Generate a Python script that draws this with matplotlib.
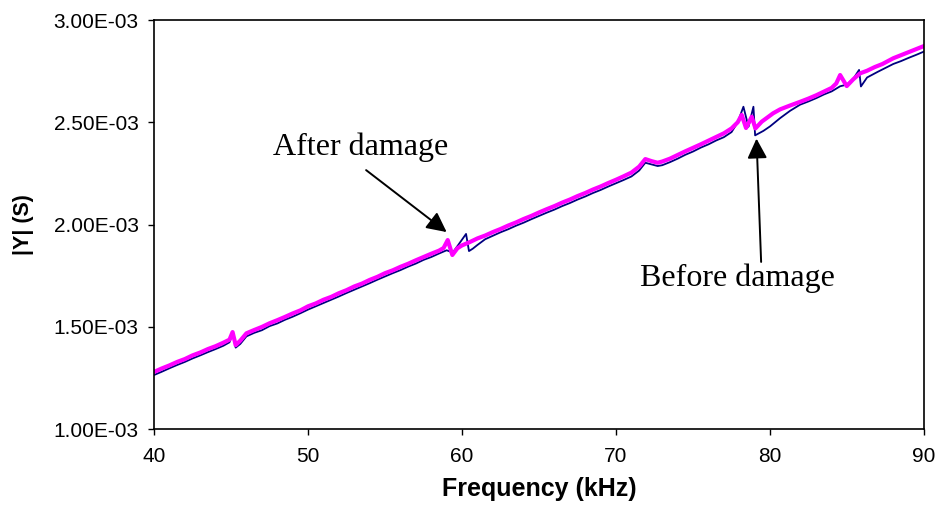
import numpy as np
import matplotlib.pyplot as plt

# |Y| readings in units of 1e-3 S
freq_before = [40.0, 40.5, 41.0, 41.5, 42.0, 42.5, 43.0, 43.5, 44.0, 44.5, 44.9,
               45.1, 45.3, 45.6, 46.0, 46.5, 47.0, 47.5, 48.0, 48.5, 49.0, 49.5,
               50.0, 50.5, 51.0, 51.5, 52.0, 52.5, 53.0, 53.5, 54.0, 54.5, 55.0,
               55.5, 56.0, 56.5, 57.0, 57.5, 58.0, 58.5, 59.0, 59.4, 59.8, 60.26,
               60.45, 60.7, 61.0, 61.5, 62.0, 62.5, 63.0, 63.5, 64.0, 64.5, 65.0,
               65.5, 66.0, 66.5, 67.0, 67.5, 68.0, 68.5, 69.0, 69.5, 70.0, 70.5,
               71.0, 71.5, 71.9, 72.3, 72.7, 73.0, 73.5, 74.0, 74.5, 75.0, 75.5,
               76.0, 76.5, 77.0, 77.5, 77.9, 78.27, 78.6, 78.92, 79.03, 79.57,
               80.0, 80.65, 81.3, 81.95, 82.5, 83.0, 83.5, 84.0, 84.55, 84.98,
               85.4, 85.78, 85.9, 86.3, 87.0, 87.5, 88.0, 88.5, 89.0, 89.5, 90.0]
before = [1.264, 1.280, 1.297, 1.313, 1.328, 1.345, 1.360, 1.376, 1.391, 1.407, 1.424,
          1.466, 1.398, 1.416, 1.453, 1.470, 1.483, 1.503, 1.516, 1.534, 1.549, 1.566,
          1.584, 1.600, 1.616, 1.632, 1.648, 1.665, 1.681, 1.697, 1.713, 1.730, 1.746,
          1.762, 1.777, 1.794, 1.809, 1.827, 1.841, 1.858, 1.874, 1.863, 1.905, 1.954,
          1.870, 1.882, 1.900, 1.928, 1.945, 1.962, 1.977, 1.994, 2.009, 2.026, 2.042,
          2.058, 2.073, 2.090, 2.105, 2.122, 2.137, 2.154, 2.169, 2.186, 2.202, 2.218,
          2.235, 2.264, 2.302, 2.294, 2.286, 2.290, 2.305, 2.322, 2.341, 2.357, 2.376,
          2.392, 2.411, 2.427, 2.452, 2.500, 2.576, 2.478, 2.576, 2.436, 2.458,
          2.480, 2.520, 2.556, 2.586, 2.602, 2.618, 2.636, 2.651, 2.676, 2.684,
          2.712, 2.756, 2.675, 2.719, 2.747, 2.766, 2.785, 2.799, 2.815, 2.830, 2.846]

freq_after = [40.0, 40.5, 41.0, 41.5, 42.0, 42.5, 43.0, 43.5, 44.0, 44.5, 44.9,
              45.1, 45.3, 45.6, 46.0, 46.5, 47.0, 47.5, 48.0, 48.5, 49.0, 49.5,
              50.0, 50.5, 51.0, 51.5, 52.0, 52.5, 53.0, 53.5, 54.0, 54.5, 55.0,
              55.5, 56.0, 56.5, 57.0, 57.5, 58.0, 58.5, 58.8, 59.07, 59.37, 59.7,
              60.0, 60.5, 61.0, 61.5, 62.0, 62.5, 63.0, 63.5, 64.0, 64.5, 65.0,
              65.5, 66.0, 66.5, 67.0, 67.5, 68.0, 68.5, 69.0, 69.5, 70.0, 70.5,
              71.0, 71.5, 71.9, 72.3, 72.7, 73.0, 73.5, 74.0, 74.5, 75.0, 75.5,
              76.0, 76.5, 77.0, 77.5, 77.9, 78.16, 78.44, 78.81, 79.05, 79.46,
              80.2, 80.65, 81.3, 81.95, 82.5, 83.0, 83.5, 84.0, 84.3, 84.55, 84.98,
              85.4, 85.84, 86.3, 86.8, 87.3, 88.0, 88.5, 89.0, 89.5, 90.0]
after = [1.279, 1.296, 1.311, 1.328, 1.342, 1.360, 1.374, 1.391, 1.405, 1.422, 1.437,
         1.474, 1.410, 1.432, 1.468, 1.484, 1.499, 1.517, 1.532, 1.548, 1.565, 1.580,
         1.600, 1.614, 1.632, 1.646, 1.664, 1.679, 1.697, 1.711, 1.729, 1.744, 1.762,
         1.776, 1.793, 1.808, 1.825, 1.841, 1.857, 1.872, 1.885, 1.924, 1.851, 1.884,
         1.898, 1.914, 1.932, 1.946, 1.963, 1.978, 1.995, 2.010, 2.027, 2.042, 2.059,
         2.075, 2.090, 2.107, 2.122, 2.139, 2.154, 2.171, 2.186, 2.203, 2.219, 2.236,
         2.254, 2.283, 2.320, 2.310, 2.302, 2.308, 2.322, 2.340, 2.358, 2.375, 2.392,
         2.410, 2.428, 2.446, 2.470, 2.500, 2.536, 2.472, 2.527, 2.470, 2.503,
         2.544, 2.563, 2.582, 2.600, 2.616, 2.632, 2.650, 2.668, 2.690, 2.731, 2.677,
         2.710, 2.739, 2.752, 2.770, 2.785, 2.813, 2.828, 2.843, 2.858, 2.873]

yticks = [1.0e-3, 1.5e-3, 2.0e-3, 2.5e-3, 3.0e-3]
xticks = [40, 50, 60, 70, 80, 90]

plt.rcParams['font.family'] = ['Liberation Sans', 'DejaVu Sans']
serif = ['Liberation Serif', 'DejaVu Serif']

fig = plt.figure(figsize=(9.41, 5.16), dpi=100)
ax = fig.add_axes([0.1637, 0.1686, 0.8183, 0.7926])

ax.plot(freq_before, np.array(before) * 1e-3, color='#000080', lw=1.3)
ax.plot(freq_after, np.array(after) * 1e-3, color='#FF00FF', lw=3.0)

ax.set_xlim(40, 90)
ax.set_ylim(1.0e-3, 3.0e-3)
ax.set_xticks(xticks)
ax.set_yticks(yticks)
ax.set_yticklabels([f"{v:.2E}" for v in yticks])
ax.tick_params(axis='x', direction='out', length=4, width=1, labelsize=15, pad=9)
ax.tick_params(axis='y', direction='out', length=4, width=1, labelsize=15, pad=7)
for sp in ax.spines.values():
    sp.set_linewidth(1.2)

ax.set_xlabel("Frequency (kHz)", fontsize=18, fontweight='bold', labelpad=8)
ax.set_ylabel("|Y| (S)", fontsize=15.5, fontweight='bold', labelpad=14)

arrow = dict(arrowstyle='-|>', color='black', lw=1.4, mutation_scale=30,
             shrinkA=0, shrinkB=0)
ax.text(53.4, 2.379e-3, "After damage", fontsize=23, family=serif,
        ha='center', va='center')
ax.annotate("", xy=(59.0, 1.963e-3), xytext=(53.77, 2.266e-3), arrowprops=arrow)
ax.text(77.9, 1.738e-3, "Before damage", fontsize=23, family=serif,
        ha='center', va='center')
ax.annotate("", xy=(79.12, 2.42e-3), xytext=(79.42, 1.817e-3), arrowprops=arrow)

fig.savefig("out.png", dpi=100)
